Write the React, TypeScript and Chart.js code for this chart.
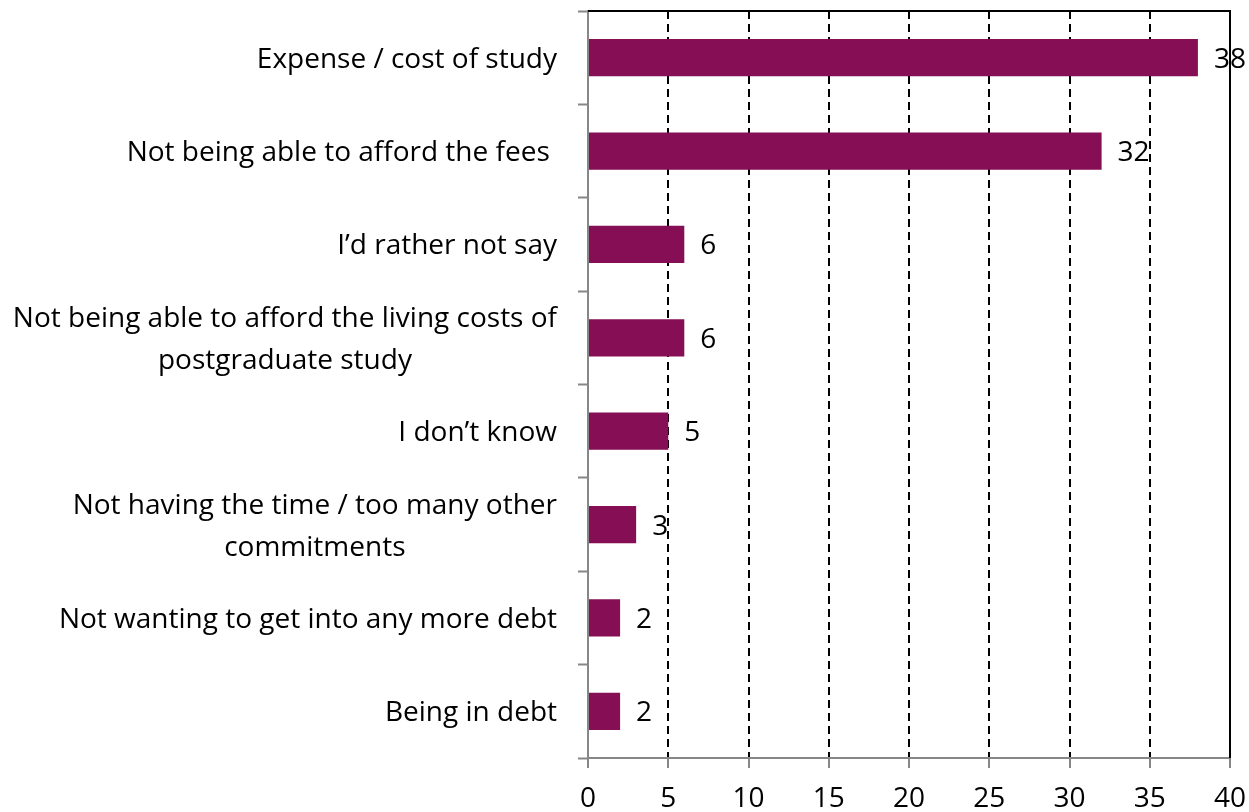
import React, { useEffect, useRef } from "react";
import { Chart, registerables } from "chart.js";

Chart.register(...registerables);

// ---- data ----
const categories: string[][] = [
  ["Expense / cost of study"],
  ["Not being able to afford the fees "],
  ["I’d rather not say"],
  ["Not being able to afford the living costs of", "postgraduate study"],
  ["I don’t know"],
  ["Not having the time / too many other", "commitments"],
  ["Not wanting to get into any more debt"],
  ["Being in debt"],
];
const values: number[] = [38, 32, 6, 6, 5, 3, 2, 2];
const xMin = 0;
const xMax = 40;
const xStep = 5;

// ---- style ----
const FONT_FAMILY = "'Open Sans', sans-serif";
const FONT_SIZE = 28;
const BAR_COLOR = "#850E55";
const AXIS_GRAY = "#878787";
const TICK_LEN = 10;
const Y_LABEL_PAD = 21;
const LINE_H = 42;
const TEXT_DY = 2;

const yLabelPlugin = {
  id: "yLabelPlugin",
  afterDraw(chart: any) {
    const ctx = chart.ctx as CanvasRenderingContext2D;
    const yScale = chart.scales.y;
    ctx.save();
    ctx.font = `${FONT_SIZE}px ${FONT_FAMILY}`;
    ctx.fillStyle = "#000";
    ctx.textBaseline = "middle";
    ctx.textAlign = "center";
    const rightX = chart.chartArea.left - TICK_LEN - Y_LABEL_PAD;
    (chart.data.labels as string[][]).forEach((lab, i) => {
      const lines = Array.isArray(lab) ? lab : [lab];
      const w = Math.max(...lines.map((l) => ctx.measureText(l).width));
      const cx = rightX - w / 2;
      const cy = yScale.getPixelForValue(i) + TEXT_DY;
      lines.forEach((l, j) => {
        ctx.fillText(l, cx, cy + (j - (lines.length - 1) / 2) * LINE_H);
      });
    });
    ctx.restore();
  },
};

const valueLabelPlugin = {
  id: "valueLabelPlugin",
  afterDatasetsDraw(chart: any) {
    const ctx = chart.ctx as CanvasRenderingContext2D;
    const meta = chart.getDatasetMeta(0);
    const data = chart.data.datasets[0].data as number[];
    ctx.save();
    ctx.font = `${FONT_SIZE}px ${FONT_FAMILY}`;
    ctx.fillStyle = "#000";
    ctx.textBaseline = "middle";
    ctx.textAlign = "left";
    meta.data.forEach((bar: any, i: number) => {
      ctx.fillText(String(data[i]), bar.x + 16, bar.y + TEXT_DY);
    });
    ctx.restore();
  },
};

const framePlugin = {
  id: "framePlugin",
  afterDatasetsDraw(chart: any) {
    const ctx = chart.ctx as CanvasRenderingContext2D;
    const { left, right, top, bottom } = chart.chartArea;
    ctx.save();
    ctx.strokeStyle = "#000";
    ctx.lineWidth = 2;
    ctx.beginPath();
    ctx.moveTo(left, top);
    ctx.lineTo(right + 1, top);
    ctx.moveTo(right, top);
    ctx.lineTo(right, bottom);
    ctx.stroke();
    ctx.restore();
  },
};

export default function App() {
  const canvasRef = useRef<HTMLCanvasElement | null>(null);

  useEffect(() => {
    document.body.style.margin = "0";
    const canvas = canvasRef.current;
    if (!canvas) return;
    const chart = new Chart(canvas, {
      type: "bar",
      data: {
        labels: categories,
        datasets: [
          {
            data: values,
            backgroundColor: BAR_COLOR,
            borderWidth: 0,
            barPercentage: 0.4,
            categoryPercentage: 1,
          },
        ],
      },
      options: {
        indexAxis: "y",
        animation: false,
        responsive: false,
        devicePixelRatio: 1,
        layout: { padding: { left: 0, top: 11, right: 19, bottom: 0 } },
        plugins: {
          legend: { display: false },
          tooltip: { enabled: false },
          title: { display: false },
        },
        scales: {
          x: {
            type: "linear",
            min: xMin,
            max: xMax,
            ticks: {
              stepSize: xStep,
              color: "#000",
              font: { family: FONT_FAMILY, size: FONT_SIZE },
              padding: 14,
              maxRotation: 0,
            },
            grid: {
              color: (ctx: any) =>
                ctx.tick && (ctx.tick.value === xMin || ctx.tick.value === xMax)
                  ? "rgba(0,0,0,0)"
                  : "#000",
              lineWidth: 2,
              drawTicks: true,
              tickLength: TICK_LEN,
              tickColor: AXIS_GRAY,
              tickWidth: 2,
              tickBorderDash: [],
            },
            border: { display: true, color: AXIS_GRAY, width: 2, dash: [8, 5] },
            afterFit: (scale: any) => {
              scale.height = 54;
              scale.paddingLeft = 0;
              scale.paddingRight = 0;
            },
          },
          y: {
            type: "category",
            ticks: { display: false },
            grid: {
              offset: true,
              drawOnChartArea: false,
              drawTicks: true,
              tickLength: TICK_LEN,
              tickColor: AXIS_GRAY,
              tickWidth: 2,
              color: AXIS_GRAY,
            },
            border: { display: true, color: AXIS_GRAY, width: 2 },
            afterFit: (scale: any) => {
              scale.width = 588;
              scale.paddingTop = 0;
              scale.paddingBottom = 0;
            },
          },
        },
      },
      plugins: [valueLabelPlugin, framePlugin, yLabelPlugin],
    });
    return () => chart.destroy();
  }, []);

  return (
    <div style={{ width: 1249, height: 812 }}>
      <canvas ref={canvasRef} width={1249} height={812} style={{ display: "block" }} />
    </div>
  );
}
